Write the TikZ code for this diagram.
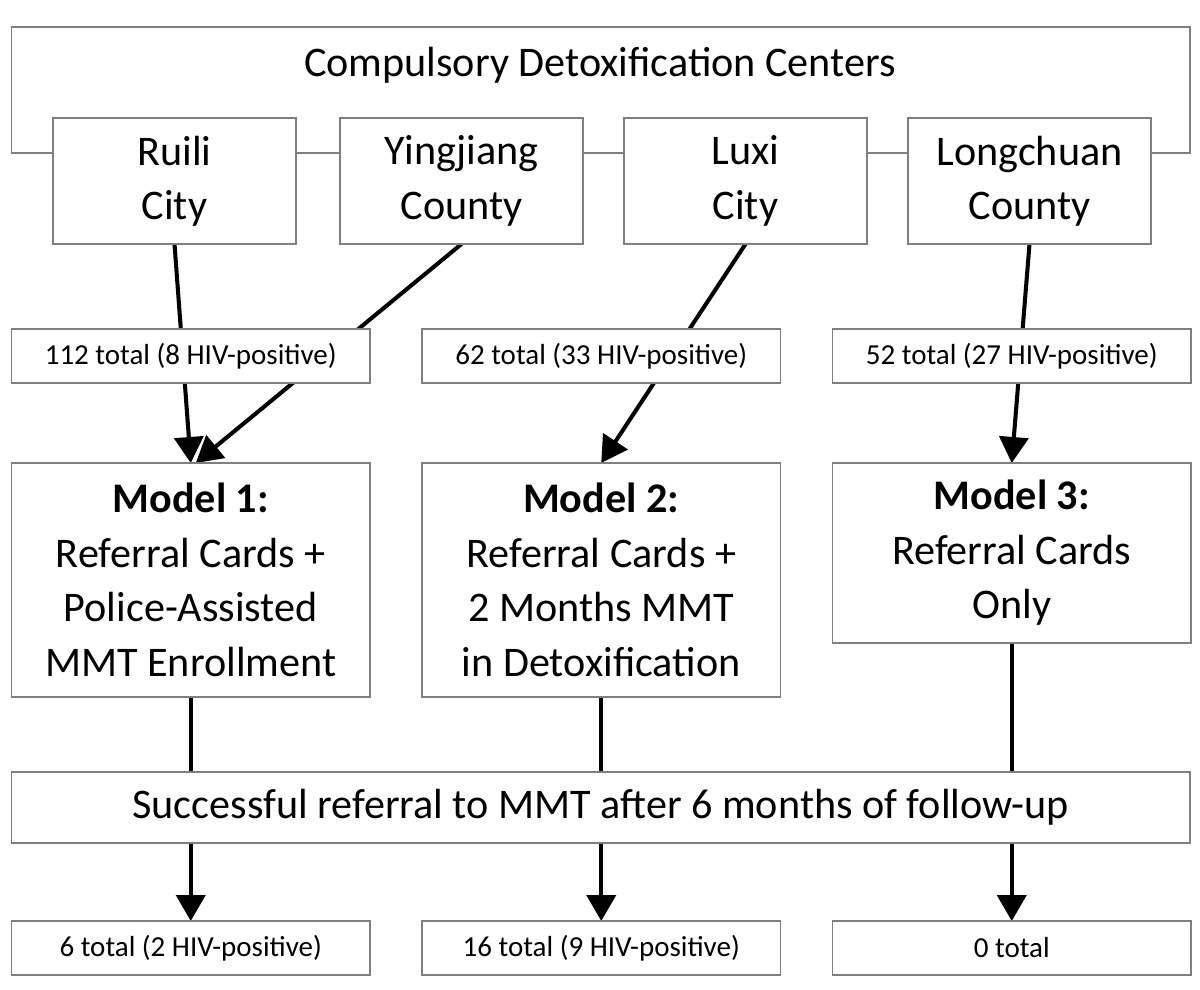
\documentclass[tikz,border=0pt]{standalone}
\usepackage{fontspec}
\setmainfont{Carlito}
\usepackage{tikz}
\usetikzlibrary{arrows.meta, positioning, backgrounds}
\definecolor{boxgray}{HTML}{7F7F7F}

\begin{document}
\begin{tikzpicture}[
    every node/.style={align=center},
    bigtext/.style={font=\fontsize{24}{31}\selectfont},
    region/.style={rectangle, draw=boxgray, line width=0.8pt, fill=white, bigtext,
                   minimum width=4.86cm, minimum height=2.52cm, inner sep=0pt, outer sep=0pt},
    count/.style={rectangle, draw=boxgray, line width=0.8pt, fill=white,
                  font=\fontsize{16.5}{20}\selectfont,
                  minimum width=7.17cm, minimum height=1.08cm, inner sep=0pt, outer sep=0pt},
    model/.style={rectangle, draw=boxgray, line width=0.8pt, fill=white, bigtext,
                  minimum width=7.17cm, inner sep=0pt, outer sep=0pt},
    frame/.style={draw=boxgray, line width=0.8pt},
    arrow/.style={-{Triangle[length=5.2mm, width=5.8mm]}, line width=2.3pt, black},
    link/.style={line width=2.3pt, black}
]
\useasboundingbox (0,0) rectangle (24,-19.78);

% --- Detoxification centers ---
\node[bigtext] (centers) at (12,-1.3) {Compulsory Detoxification Centers};
\node[region] (ruili) at (3.49,-3.62) {Ruili\\City};
\node[region, right=0.88cm of ruili] (yingjiang) {Yingjiang\\County};
\node[region, right=0.82cm of yingjiang] (luxi) {Luxi\\City};
\node[region, right=0.82cm of luxi] (longchuan) {Longchuan\\County};

% --- Counts ---
\node[count] (total1) at (3.815,-7.12) {112 total (8 HIV-positive)};
\node[count, right=1.04cm of total1] (total2) {62 total (33 HIV-positive)};
\node[count, right=1.04cm of total2] (total3) {52 total (27 HIV-positive)};

% --- Models ---
\node[model, minimum height=4.68cm, below=1.6cm of total1] (model1)
  {\textbf{Model 1:}\\Referral Cards +\\Police-Assisted\\MMT Enrollment};
\node[model, minimum height=4.68cm, below=1.6cm of total2] (model2)
  {\textbf{Model 2:}\\Referral Cards +\\2 Months MMT\\in Detoxification};
\node[model, minimum height=3.6cm, below=1.6cm of total3] (model3)
  {\textbf{Model 3:}\\Referral Cards\\Only};

% --- Follow-up ---
\node[model, minimum width=23.57cm, minimum height=1.42cm] (followup) at (12.015,-16.15)
  {Successful referral to MMT after 6 months of follow-up};

% --- Outcomes ---
\node[count] (result1) at (model1 |- 0,-18.96) {6 total (2 HIV-positive)};
\node[count] (result2) at (model2 |- 0,-18.96) {16 total (9 HIV-positive)};
\node[count] (result3) at (model3 |- 0,-18.96) {0 total};

\begin{scope}[on background layer]
  % frame round the centers
  \coordinate (frametl) at (0.23,-0.54);
  \coordinate (framebr) at (23.8,-3.06);
  \draw[frame] (frametl) rectangle (framebr);

  % --- Arrows ---
  \draw[arrow] (ruili.south) -- (model1.north);
  \draw[arrow] (yingjiang.south) -- ([xshift=1mm]model1.north);
  \draw[arrow] (luxi.south) -- (model2.north);
  \draw[arrow] (longchuan.south) -- (model3.north);

  \foreach \m/\r in {model1/result1, model2/result2, model3/result3} {
    \draw[link] (\m.south) -- (\m.south |- followup.north);
    \draw[arrow] (followup.south -| \m) -- (\r.north);
  }
\end{scope}

\end{tikzpicture}
\end{document}
